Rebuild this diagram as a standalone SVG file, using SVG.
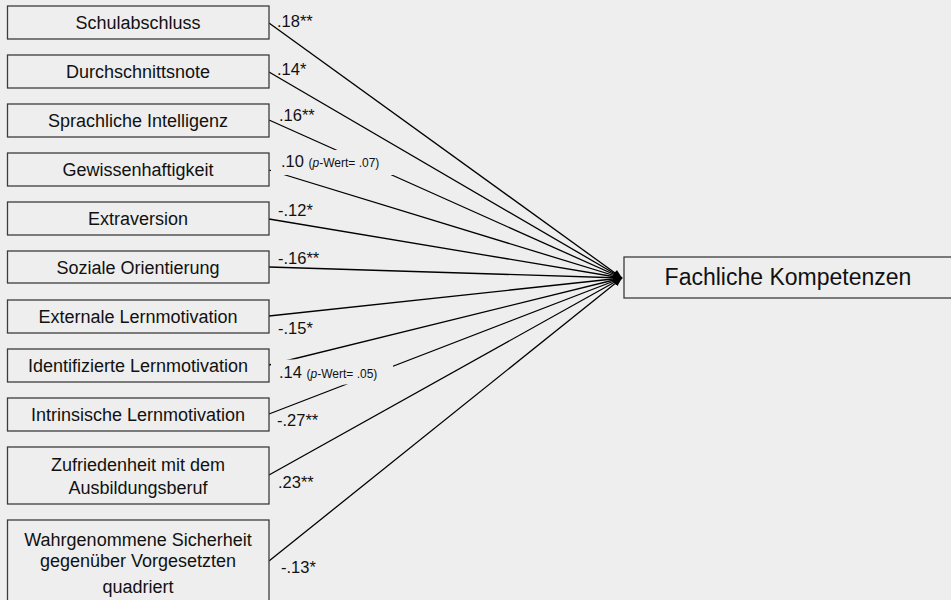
<svg xmlns="http://www.w3.org/2000/svg" width="951" height="600" viewBox="0 0 951 600">
  <style>
    .box { fill: #eeeeee; stroke: #3c3c3c; stroke-width: 1.3; }
    .lbl { font-family: "Liberation Sans", Arial, sans-serif; font-size: 18px; fill: #111111; text-anchor: middle; }
    .big { font-family: "Liberation Sans", Arial, sans-serif; font-size: 23px; fill: #111111; text-anchor: middle; }
    .coef { font-family: "Liberation Sans", Arial, sans-serif; font-size: 16.5px; fill: #111111; }
    .small { font-size: 12px; }
    .edge { stroke: #000000; stroke-width: 1.3; fill: none; marker-end: url(#arrow); }
    .mask { fill: #eeeeee; stroke: none; }
  </style>
  <defs>
    <marker id="arrow" markerUnits="userSpaceOnUse" viewBox="0 0 10 8" refX="10" refY="4" markerWidth="9" markerHeight="7" orient="auto">
      <path d="M0,0 L10,4 L0,8 Z" fill="#000000"/>
    </marker>
  </defs>

  <rect x="0" y="0" width="951" height="600" fill="#eeeeee"/>

  <!-- paths into the target construct -->
  <g id="connectors">
    <line class="edge" x1="269" y1="23" x2="622" y2="278"/>
    <line class="edge" x1="269" y1="72" x2="622" y2="278"/>
    <line class="edge" x1="269" y1="120" x2="622" y2="278"/>
    <line class="edge" x1="269" y1="170" x2="622" y2="278"/>
    <line class="edge" x1="269" y1="219" x2="622" y2="278"/>
    <line class="edge" x1="269" y1="267" x2="622" y2="278"/>
    <line class="edge" x1="269" y1="316" x2="622" y2="278"/>
    <line class="edge" x1="269" y1="365" x2="622" y2="278"/>
    <line class="edge" x1="269" y1="414" x2="622" y2="278"/>
    <line class="edge" x1="269" y1="475" x2="622" y2="278"/>
    <line class="edge" x1="269" y1="561" x2="622" y2="278"/>
  </g>

  <!-- path coefficients -->
  <g id="coefficients">
    <text class="coef" x="277" y="27">.18**</text>
    <text class="coef" x="277" y="75">.14*</text>
    <text class="coef" x="279" y="120.5">.16**</text>
    <rect class="mask" x="271" y="150" width="122" height="25"/>
    <text class="coef" x="281" y="167">.10 <tspan class="small">(<tspan font-style="italic">p</tspan>-Wert= .07)</tspan></text>
    <text class="coef" x="278" y="216">-.12*</text>
    <text class="coef" x="278" y="264">-.16**</text>
    <text class="coef" x="278" y="334">-.15*</text>
    <rect class="mask" x="271" y="359.5" width="122" height="25"/>
    <text class="coef" x="279" y="378">.14 <tspan class="small">(<tspan font-style="italic">p</tspan>-Wert= .05)</tspan></text>
    <text class="coef" x="277" y="425.5">-.27**</text>
    <text class="coef" x="278" y="488">.23**</text>
    <text class="coef" x="281" y="573">-.13*</text>
  </g>

  <!-- predictors -->
  <g id="schulabschluss">
    <rect class="box" x="7.5" y="6" width="261.5" height="33"/>
    <text class="lbl" x="138" y="29">Schulabschluss</text>
  </g>
  <g id="durchschnittsnote">
    <rect class="box" x="7.5" y="55" width="261.5" height="33"/>
    <text class="lbl" x="138" y="78">Durchschnittsnote</text>
  </g>
  <g id="sprachliche-intelligenz">
    <rect class="box" x="7.5" y="104" width="261.5" height="33"/>
    <text class="lbl" x="138" y="127">Sprachliche Intelligenz</text>
  </g>
  <g id="gewissenhaftigkeit">
    <rect class="box" x="7.5" y="153" width="261.5" height="33"/>
    <text class="lbl" x="138" y="176">Gewissenhaftigkeit</text>
  </g>
  <g id="extraversion">
    <rect class="box" x="7.5" y="202" width="261.5" height="33"/>
    <text class="lbl" x="138" y="225">Extraversion</text>
  </g>
  <g id="soziale-orientierung">
    <rect class="box" x="7.5" y="251" width="261.5" height="32"/>
    <text class="lbl" x="138" y="273.5">Soziale Orientierung</text>
  </g>
  <g id="externale-lernmotivation">
    <rect class="box" x="7.5" y="300" width="261.5" height="33"/>
    <text class="lbl" x="138" y="323">Externale Lernmotivation</text>
  </g>
  <g id="identifizierte-lernmotivation">
    <rect class="box" x="7.5" y="349" width="261.5" height="33"/>
    <text class="lbl" x="138" y="372">Identifizierte Lernmotivation</text>
  </g>
  <g id="intrinsische-lernmotivation">
    <rect class="box" x="7.5" y="398" width="261.5" height="33"/>
    <text class="lbl" x="138" y="421">Intrinsische Lernmotivation</text>
  </g>
  <g id="zufriedenheit">
    <rect class="box" x="7.5" y="447" width="261.5" height="57"/>
    <text class="lbl" x="138" y="470.5">Zufriedenheit mit dem</text>
    <text class="lbl" x="138" y="494">Ausbildungsberuf</text>
  </g>
  <g id="sicherheit-vorgesetzte">
    <rect class="box" x="7.5" y="520" width="261.5" height="90"/>
    <text class="lbl" x="138" y="545.5">Wahrgenommene Sicherheit</text>
    <text class="lbl" x="138" y="567">gegenüber Vorgesetzten</text>
    <text class="lbl" x="138" y="592.5">quadriert</text>
  </g>

  <!-- outcome -->
  <g id="fachliche-kompetenzen">
    <rect class="box" x="624" y="257" width="340" height="41"/>
    <text class="big" x="788" y="285">Fachliche Kompetenzen</text>
  </g>
</svg>
